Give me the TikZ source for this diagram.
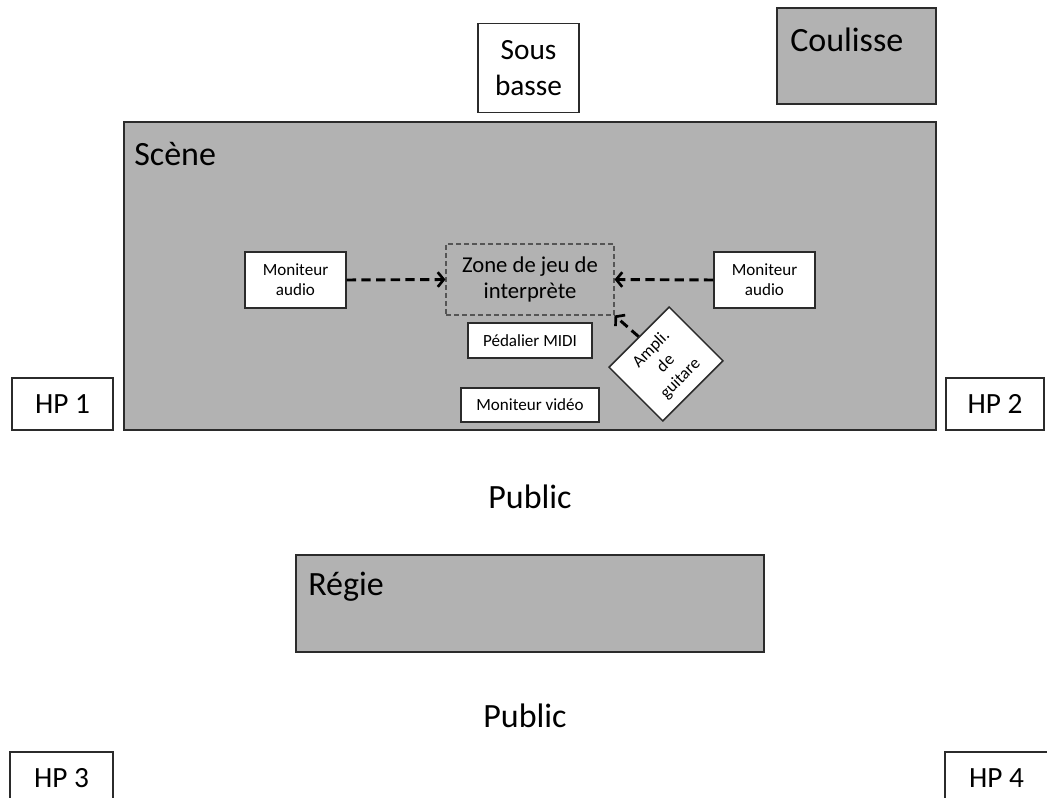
\documentclass[tikz,border=0pt]{standalone}
\usepackage{fontspec}
\setmainfont{Carlito}
\usetikzlibrary{arrows.meta}
\definecolor{zonegray}{HTML}{B2B2B2}
\definecolor{edge}{HTML}{2B2B2B}
\tikzset{
  size/.style 2 args={minimum width=#1*0.75pt, minimum height=#2*0.75pt},
  area/.style={draw=edge, line width=1.2pt, fill=zonegray, inner sep=0pt},
  whitebox/.style={draw=edge, line width=1.1pt, fill=white, align=center, inner sep=0pt},
  big/.style={font=\fontsize{22}{27}\selectfont},
  title/.style={font=\fontsize{25.5}{30}\selectfont, inner sep=0pt},
  small/.style={font=\fontsize{12.8}{15}\selectfont},
  feed/.style={line width=2.2pt, dash pattern=on 7pt off 4pt, draw=black,
    -{Straight Barb[length=4.5pt,width=11pt,line width=2pt]}}
}
\begin{document}
\begin{tikzpicture}[x=0.75pt,y=-0.75pt]
\useasboundingbox (0,0) rectangle (1047,798);

% rooms
\node[area, size={812}{308}] (scene) at (530,276) {};
\node[title, anchor=base west] (scenelbl) at (134,166) {Scène};
\node[area, size={159}{96}] (coulisse) at (856.5,56) {};
\node[title, anchor=base west] (coulisselbl) at (790,52) {Coulisse};
\node[area, size={468}{97}] (regie) at (530,603.5) {};
\node[title, anchor=base west] (regielbl) at (308,595) {Régie};

% loudspeakers
\node[whitebox, size={101}{89}, font=\fontsize{22}{27}\selectfont] (sub) at (528.5,68) {Sous\\basse};
\node[whitebox, big, size={101}{52}] (hp1) at (62.5,404) {HP 1};
\node[whitebox, big, size={98}{52}] (hp2) at (995,404) {HP 2};
\node[whitebox, big, size={103}{52}] (hp3) at (61.5,778) {HP 3};
\node[whitebox, big, size={103}{52}] (hp4) at (996.5,778) {HP 4};

% audience
\node[title] (public1) at (530,497) {Public};
\node[title] (public2) at (525,716) {Public};

% stage equipment
\node[draw=edge!80, line width=0.8pt, dash pattern=on 3.5pt off 2.5pt, size={168}{71},
      align=center, font=\fontsize{17}{19.5}\selectfont, inner sep=0pt] (zone) at (530,279.5) {Zone de jeu de\\interprète};
\node[whitebox, size={101}{56}, font=\fontsize{12.8}{15}\selectfont] (monl) at (295.5,280) {Moniteur\\audio};
\node[whitebox, size={101}{56}, font=\fontsize{12.8}{15}\selectfont] (monr) at (764.5,280) {Moniteur\\audio};
\node[whitebox, small, size={124}{35}] (pedal) at (530,340.5) {Pédalier MIDI};
\node[whitebox, small, size={138}{34}] (video) at (530,405) {Moniteur vidéo};
\node[whitebox, size={85}{76}, rotate=45, font=\fontsize{12.8}{15.5}\selectfont] (ampli) at (666,364) {Ampli.\\de\\guitare};

% monitoring paths
\draw[feed] (monl.east) -- (zone.west);
\draw[feed] (monr.west) -- (zone.east);
\draw[feed] (ampli.north) -- (zone.south east);
\end{tikzpicture}
\end{document}
